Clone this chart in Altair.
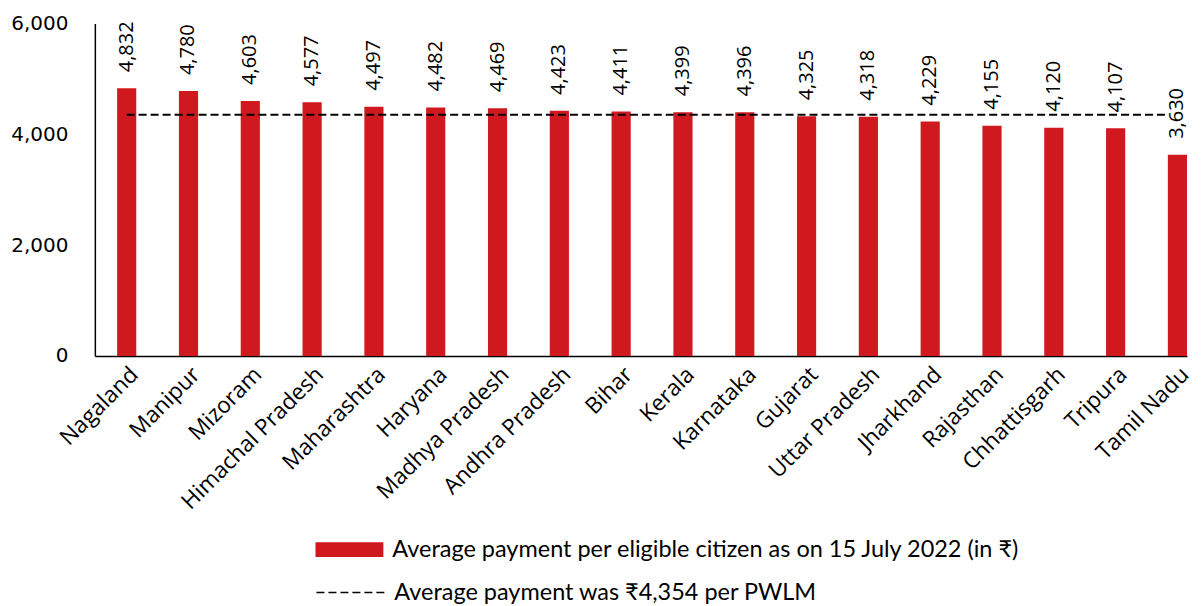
import altair as alt
import pandas as pd

states = ["Nagaland", "Manipur", "Mizoram", "Himachal Pradesh", "Maharashtra", "Haryana",
          "Madhya Pradesh", "Andhra Pradesh", "Bihar", "Kerala", "Karnataka", "Gujarat",
          "Uttar Pradesh", "Jharkhand", "Rajasthan", "Chhattisgarh", "Tripura", "Tamil Nadu"]
payments = [4832, 4780, 4603, 4577, 4497, 4482, 4469, 4423, 4411, 4399, 4396, 4325,
            4318, 4229, 4155, 4120, 4107, 3630]
average_value = 4354
y_ticks = [0, 2000, 4000, 6000]
bar_series = "Average payment per eligible citizen as on 15 July 2022 (in ₹)"
avg_series = "Average payment was ₹4,354 per PWLM"

RED = "#d0191f"
FONT = "Open Sans"
LFONT = "Lato"

df = pd.DataFrame({"state": states, "payment": payments, "series": bar_series})
avg_df = pd.DataFrame({"start": [states[0]], "end": [states[-1]],
                       "value": [average_value], "series": [avg_series]})

xscale = alt.Scale(domain=states, paddingInner=0.69, paddingOuter=0.18, align=1.0)
xaxis = alt.Axis(title=None, labelAngle=-45, labelAlign="right", labelBaseline="top",
                 labelFont=FONT, labelFontSize=22.5, labelColor="#000", ticks=False,
                 domainColor="#000", domainWidth=1.5, labelPadding=7, labelLimit=400)

bars = alt.Chart(df).mark_bar(color=RED).encode(
    x=alt.X("state:N", sort=states, scale=xscale, axis=xaxis),
    y=alt.Y("payment:Q", scale=alt.Scale(domain=[0, 6000]),
            axis=alt.Axis(title=None, values=y_ticks, format=",.0f",
                          grid=False, ticks=False, domainColor="#000", domainWidth=1.5,
                          labelFont="DejaVu Sans", labelFontSize=20, labelColor="#000",
                          labelPadding=27)),
    color=alt.Color("series:N", scale=alt.Scale(domain=[bar_series], range=[RED]),
                    legend=alt.Legend(title=None, orient="none", legendX=221, legendY=493,
                                      symbolType="M-1,-0.22H1V0.22H-1Z", symbolSize=4624,
                                      symbolStrokeWidth=0, labelFont=LFONT, labelFontSize=23.5,
                                      labelColor="#000", labelOffset=9, padding=0,
                                      labelLimit=900)),
)

labels = alt.Chart(df).mark_text(angle=270, align="left", baseline="middle", dx=16,
                                 font=FONT, fontSize=20, color="#000").encode(
    x=alt.X("state:N", sort=states, scale=xscale),
    y="payment:Q",
    text=alt.Text("payment:Q", format=","),
)

rule = alt.Chart(avg_df).mark_rule(color="#000", strokeWidth=2).encode(
    x=alt.X("start:N", scale=xscale, bandPosition=0.5),
    x2=alt.X2("end:N", bandPosition=0),
    y="value:Q",
    strokeDash=alt.StrokeDash("series:N", scale=alt.Scale(domain=[avg_series], range=[[8, 4]]),
                              legend=alt.Legend(title=None, orient="none", legendX=221, legendY=535,
                                                symbolType="M-1,0H1", symbolSize=4624,
                                                symbolStrokeColor="#000", symbolStrokeWidth=1.5,
                                                symbolDash=[5, 3],
                                                labelFont=LFONT, labelFontSize=23.5,
                                                labelColor="#000", labelOffset=9, padding=0,
                                                labelLimit=900)),
)

chart = alt.layer(bars, rule, labels).resolve_legend(color="independent").properties(
    width=1094, height=333, padding={"left": 2, "top": 5, "right": 0, "bottom": 5}
).configure_view(stroke=None)

chart.save("out.html", embed_options={"renderer": "svg", "actions": False})
